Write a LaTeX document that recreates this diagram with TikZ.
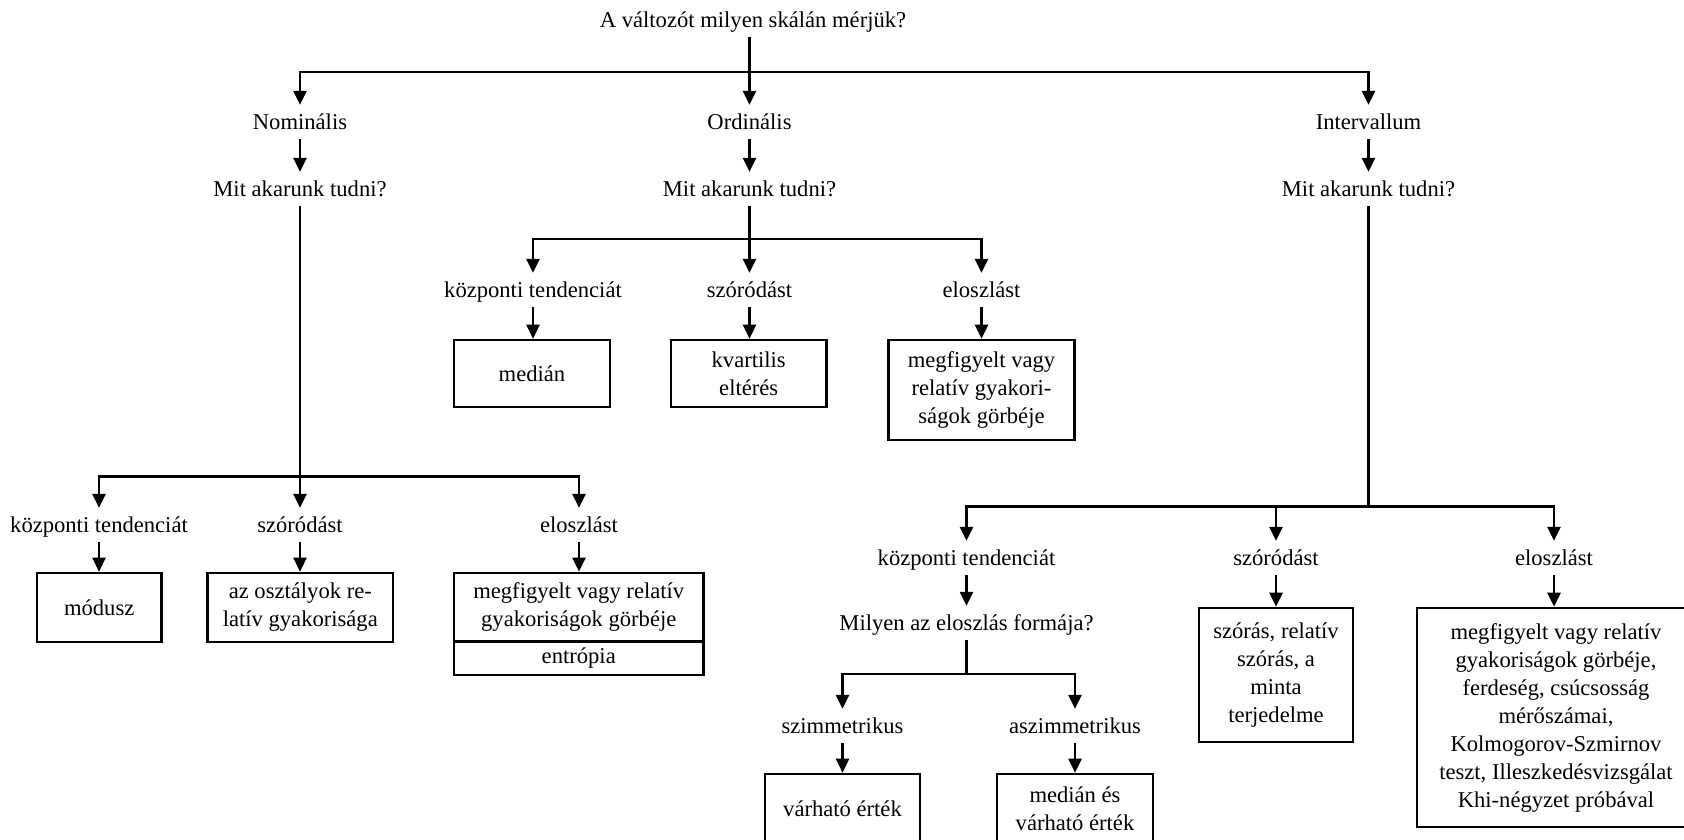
\documentclass[tikz,border=0pt]{standalone}
\usepackage{fontspec}
\setmainfont{Liberation Serif}
\usetikzlibrary{arrows.meta}
\newcommand\diagfont{\fontsize{22.6}{28}\selectfont}
\begin{document}
\begin{tikzpicture}[x=1pt,y=-1pt,
  every node/.style={font=\diagfont},
  lbl/.style={inner xsep=2pt,inner ysep=6.75pt,text height=17.5pt,text depth=3pt},
  boxnode/.style={draw,line width=2.6pt,inner sep=0pt,align=center,minimum width=#1},
  conn/.style={line width=2.6pt,line join=miter},
  arr/.style={conn,-{Triangle[length=14pt,width=13pt]}}]
\useasboundingbox (0,0) rectangle (1684,840);
\clip (0,0) rectangle (1684,840);

% question and the three scales
\node[lbl] (title) at (753,20) {A változót milyen skálán mérjük?};
\node[lbl] (nom) at (300,122) {Nominális};
\node[lbl] (ord) at (749.5,122) {Ordinális};
\node[lbl] (intv) at (1368.5,122) {Intervallum};
\node[lbl] (nomq) at (300,189) {Mit akarunk tudni?};
\node[lbl] (ordq) at (749.5,189) {Mit akarunk tudni?};
\node[lbl] (intq) at (1368.5,189) {Mit akarunk tudni?};

\coordinate (topbar) at (749.5,72);
\draw[arr] (title.south -| topbar) -- (topbar) -| (nom.north);
\draw[arr] (topbar) -- (ord.north);
\draw[arr] (topbar) -| (intv.north);
\draw[arr] (nom) -- (nomq);
\draw[arr] (ord) -- (ordq);
\draw[arr] (intv) -- (intq);

% ordinal branch
\node[lbl] (ok) at (533,290) {központi tendenciát};
\node[lbl] (os) at (749.5,290) {szóródást};
\node[lbl] (oe) at (981.5,290) {eloszlást};
\node[boxnode=156pt,minimum height=67pt] (ob1) at (532,373.5) {medián};
\node[boxnode=155.5pt,minimum height=67pt] (ob2) at (748.7,373.5) {kvartilis\\eltérés};
\node[boxnode=186pt,minimum height=100pt] (ob3) at (981.5,390) {megfigyelt vagy\\relatív gyakori-\\ságok görbéje};
\coordinate (ordbar) at (749.5,239);
\draw[arr] (ordq.south) -- (ordbar) -| (ok.north);
\draw[arr] (ordbar) -- (os.north);
\draw[arr] (ordbar) -| (oe.north);
\draw[arr] (ok.south) -- (ok.south |- ob1.north);
\draw[arr] (os.south) -- (os.south |- ob2.north);
\draw[arr] (oe.south) -- (oe.south |- ob3.north);

% nominal branch
\node[lbl] (nk) at (99,525) {központi tendenciát};
\node[lbl] (ns) at (300,525) {szóródást};
\node[lbl] (ne) at (579,525) {eloszlást};
\node[boxnode=124.5pt,minimum height=69pt] (nb1) at (99.2,607.5) {módusz};
\node[boxnode=185.4pt,minimum height=69pt] (nb2) at (300.3,607.5) {az osztályok re-\\latív gyakorisága};
\node[boxnode=249.5pt,minimum height=68.7pt] (nb3) at (578.75,607.3) {megfigyelt vagy relatív\\gyakoriságok görbéje};
\node[boxnode=249.5pt,minimum height=33.3pt] (nb4) at (578.75,658.35) {entrópia};
\coordinate (nombar) at (300,476.7);
\draw[arr] (nomq.south) -- (nombar) -| (nk.north);
\draw[arr] (nombar) -- (ns.north);
\draw[arr] (nombar) -| (ne.north);
\draw[arr] (nk.south) -- (nk.south |- nb1.north);
\draw[arr] (ns.south) -- (ns.south |- nb2.north);
\draw[arr] (ne.south) -- (ne.south |- nb3.north);

% interval branch
\node[lbl] (ik) at (966.5,558) {központi tendenciát};
\node[lbl] (is) at (1276,558) {szóródást};
\node[lbl] (ie) at (1554,558) {eloszlást};
\node[lbl] (iform) at (966.5,623) {Milyen az eloszlás formája?};
\node[lbl] (isz) at (842.5,726) {szimmetrikus};
\node[lbl] (iasz) at (1075,726) {aszimmetrikus};
\node[boxnode=154pt,minimum height=134pt] (ib1) at (1276,675) {szórás, relatív\\szórás, a\\minta\\terjedelme};
\node[boxnode=278pt,minimum height=219pt] (ib2) at (1556,717.5) {megfigyelt vagy relatív\\gyakoriságok görbéje,\\ferdeség, csúcsosság\\mérőszámai,\\Kolmogorov-Szmirnov\\teszt, Illeszkedésvizsgálat\\Khi-négyzet próbával};
\node[boxnode=155pt,minimum height=70pt] (bb1) at (842.5,809) {várható érték};
\node[boxnode=156pt,minimum height=70pt] (bb2) at (1075,809) {medián és\\várható érték};
\coordinate (intbar) at (1368.5,506.7);
\coordinate (formbar) at (966.5,674);
\draw[arr] (intq.south) -- (intbar) -| (ik.north);
\draw[arr] (intbar) -| (is.north);
\draw[arr] (intbar) -| (ie.north);
\draw[arr] (ik) -- (iform);
\draw[arr] (is.south) -- (is.south |- ib1.north);
\draw[arr] (ie.south) -- (ie.south |- ib2.north);
\draw[arr] (iform.south) -- (formbar) -| (isz.north);
\draw[arr] (formbar) -| (iasz.north);
\draw[arr] (isz.south) -- (isz.south |- bb1.north);
\draw[arr] (iasz.south) -- (iasz.south |- bb2.north);
\end{tikzpicture}
\end{document}
